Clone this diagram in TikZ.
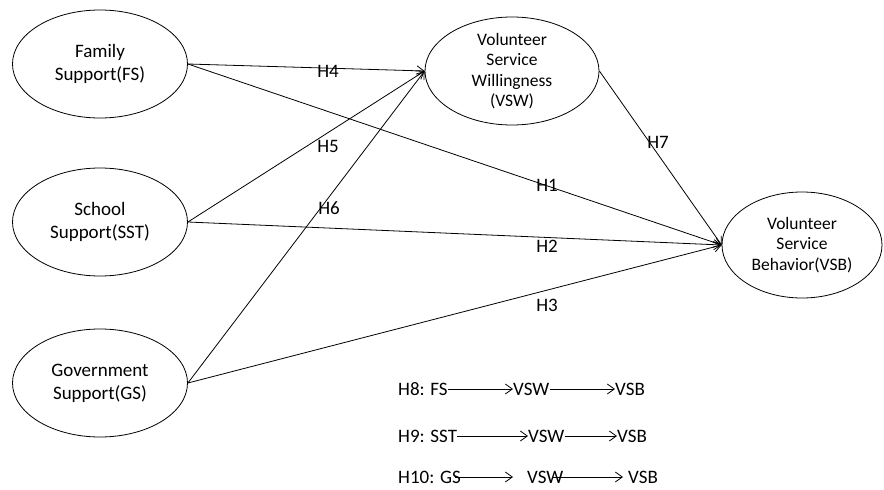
\documentclass[tikz,border=0pt]{standalone}
\usepackage{fontspec}
\setmainfont{Carlito}
\usetikzlibrary{shapes.geometric,arrows.meta}

\tikzset{
  construct/.style={draw, ellipse, line width=0.8pt, minimum width=175pt,
    minimum height=108pt, inner sep=0pt},
  bigtxt/.style={align=center, font=\fontsize{19}{23}\selectfont},
  smalltxt/.style={align=center, font=\fontsize{17.5}{20.5}\selectfont},
  hlab/.style={font=\fontsize{19}{23}\selectfont, inner sep=0pt},
  path/.style={line width=0.8pt, -{Straight Barb[length=7pt,width=10pt]}}
}

\begin{document}
\begin{tikzpicture}[x=1pt,y=-1pt]
  \useasboundingbox (0,0) rectangle (884,490);

  % constructs
  \node[construct, label={[bigtxt]center:Family\\Support(FS)}] (fs) at (100,64) {};
  \node[construct, label={[bigtxt]center:School\\Support(SST)}] (sst) at (100,222) {};
  \node[construct, label={[bigtxt]center:Government\\Support(GS)}] (gs) at (100,383) {};
  \node[construct, minimum width=174pt,
    label={[smalltxt]center:Volunteer\\Service\\Willingness\\(VSW)}] (vsw) at (512,71) {};
  \node[construct, minimum width=160pt, minimum height=106pt,
    label={[smalltxt]center:Volunteer\\Service\\Behavior(VSB)}] (vsb) at (802,245) {};

  % paths
  \draw[path] (fs.east) -- (vsw.west);
  \draw[path] (sst.east) -- (vsw.west);
  \draw[path] (gs.east) -- (vsw.west);
  \draw[path] (fs.east) -- (vsb.west);
  \draw[path] (sst.east) -- (vsb.west);
  \draw[path] (gs.east) -- (vsb.west);
  \draw[path] (vsw.east) -- (vsb.west);

  \node[hlab] (h4) at (328,71) {H4};
  \node[hlab] (h5) at (328,146) {H5};
  \node[hlab] (h6) at (329,208) {H6};
  \node[hlab] (h1) at (547,185) {H1};
  \node[hlab] (h2) at (547,246) {H2};
  \node[hlab] (h3) at (547,305) {H3};
  \node[hlab] (h7) at (658,142) {H7};

  % mediation hypotheses
  \node[hlab, anchor=west] (h8a) at (398,389) {H8: FS};
  \node[hlab, anchor=west] (h8b) at (513,389) {VSW};
  \node[hlab, anchor=west] (h8c) at (615,389) {VSB};
  \draw[path] (h8a.east) -- (h8b.west);
  \draw[path] (h8b.east) -- (h8c.west);

  \node[hlab, anchor=west] (h9a) at (398,436) {H9: SST};
  \node[hlab, anchor=west] (h9b) at (528,436) {VSW};
  \node[hlab, anchor=west] (h9c) at (617,436) {VSB};
  \draw[path] (h9a.east) -- (h9b.west);
  \draw[path] (h9b.east) -- (h9c.west);

  \node[hlab, anchor=west] (h10a) at (398,477) {H10: GS};
  \node[hlab, anchor=west] (h10b) at (527,477) {VSW};
  \node[hlab, anchor=west] (h10c) at (628,477) {VSB};
  \draw[path, shorten <=-6pt, shorten >=14pt] (h10a.east) -- (h10b.west);
  \draw[path, shorten <=-12pt, shorten >=5pt] (h10b.east) -- (h10c.west);
\end{tikzpicture}
\end{document}
